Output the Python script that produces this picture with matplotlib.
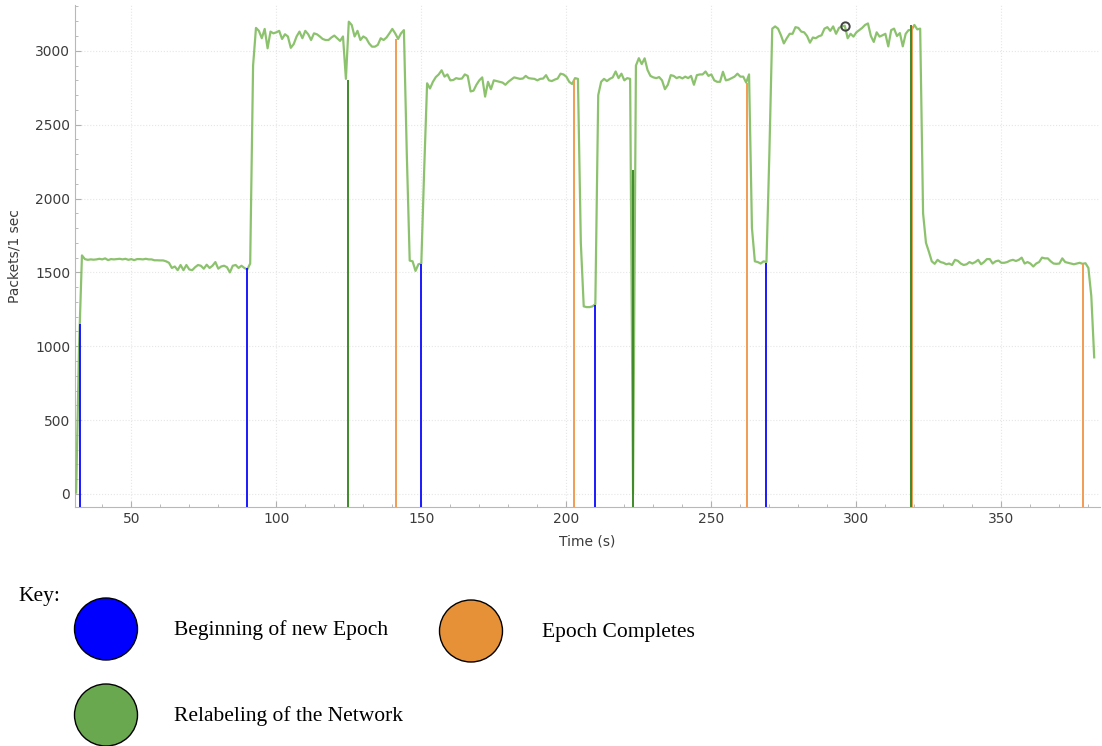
import numpy as np
import matplotlib
matplotlib.use("Agg")
import matplotlib.pyplot as plt
from matplotlib.patches import Ellipse
from matplotlib.ticker import MultipleLocator

# ---------------- data ----------------
time_s = np.arange(31, 383)
packets = [
    10, 1000, 1615, 1590, 1585, 1588, 1586, 1588, 1592, 1588,      # 31-40
    1595, 1583, 1590, 1588, 1590, 1592, 1588, 1592, 1585, 1590,    # 41-50
    1583, 1590, 1590, 1588, 1592, 1588, 1588, 1582, 1582, 1581,    # 51-60
    1581, 1575, 1565, 1530, 1540, 1515, 1550, 1515, 1550, 1520,    # 61-70
    1515, 1535, 1550, 1545, 1525, 1552, 1530, 1545, 1570, 1525,    # 71-80
    1540, 1545, 1535, 1500, 1545, 1550, 1530, 1545, 1530, 1520,    # 81-90
    1560, 2900, 3155, 3135, 3085, 3148, 3017, 3130, 3118, 3125,    # 91-100
    3135, 3080, 3112, 3097, 3020, 3045, 3097, 3130, 3085, 3135,    # 101-110
    3112, 3073, 3118, 3112, 3097, 3080, 3073, 3073, 3090, 3103,    # 111-120
    3085, 3067, 3097, 2810, 3197, 3175, 3097, 3135, 3073, 3097,    # 121-130
    3085, 3050, 3028, 3028, 3040, 3085, 3073, 3090, 3118, 3148,    # 131-140
    3118, 3080, 3118, 3140, 2300, 1580, 1575, 1510, 1555, 1560,    # 141-150
    2200, 2780, 2745, 2790, 2822, 2840, 2868, 2825, 2840, 2800,    # 151-160
    2802, 2815, 2810, 2812, 2840, 2830, 2725, 2730, 2770, 2800,    # 161-170
    2820, 2690, 2790, 2740, 2800, 2795, 2790, 2785, 2770, 2790,    # 171-180
    2805, 2820, 2815, 2810, 2812, 2830, 2815, 2812, 2810, 2800,    # 181-190
    2810, 2812, 2835, 2800, 2795, 2805, 2812, 2845, 2840, 2825,    # 191-200
    2790, 2775, 2815, 2810, 1700, 1270, 1265, 1265, 1270, 1285,    # 201-210
    2700, 2790, 2810, 2795, 2810, 2820, 2860, 2815, 2845, 2800,    # 211-220
    2815, 2810, 0, 2900, 2950, 2910, 2949, 2870, 2830, 2820,       # 221-230
    2815, 2822, 2800, 2740, 2770, 2835, 2830, 2815, 2823, 2813,    # 231-240
    2825, 2815, 2830, 2770, 2835, 2840, 2840, 2860, 2830, 2840,    # 241-250
    2800, 2790, 2790, 2858, 2800, 2805, 2815, 2825, 2845, 2825,    # 251-260
    2825, 2785, 2840, 1800, 1575, 1570, 1560, 1575, 1570, 2300,    # 261-270
    3150, 3165, 3150, 3105, 3050, 3085, 3115, 3115, 3160, 3155,    # 271-280
    3130, 3125, 3100, 3055, 3090, 3085, 3098, 3105, 3150, 3160,    # 281-290
    3135, 3165, 3115, 3155, 3165, 3170, 3085, 3115, 3096, 3125,    # 291-300
    3140, 3155, 3175, 3185, 3100, 3060, 3125, 3096, 3105, 3115,    # 301-310
    3030, 3140, 3150, 3100, 3120, 3030, 3115, 3140, 3140, 3175,    # 311-320
    3145, 3150, 1900, 1700, 1640, 1575, 1558, 1585, 1570, 1565,    # 321-330
    1555, 1560, 1550, 1585, 1578, 1560, 1550, 1555, 1570, 1560,    # 331-340
    1570, 1585, 1555, 1570, 1590, 1590, 1560, 1575, 1580, 1565,    # 341-350
    1565, 1570, 1580, 1585, 1577, 1585, 1600, 1560, 1570, 1560,    # 351-360
    1540, 1560, 1570, 1600, 1595, 1595, 1575, 1560, 1558, 1560,    # 361-370
    1595, 1570, 1565, 1560, 1555, 1560, 1565, 1558, 1562, 1530,    # 371-380
    1340, 925,                                                     # 381-382
]

epoch_begin_t = [32.4, 90.0, 149.8, 210.0, 268.9]
epoch_begin_top = [1150, 1530, 1560, 1280, 1565]
epoch_done_t = [141.2, 202.8, 262.3, 319.1, 378.3]
epoch_done_top = [3080, 2800, 2780, 3170, 1555]
relabel_t = [124.7, 223.1, 318.8]
relabel_top = [2800, 2190, 3175]

marker_t = 296

xticks = [50, 100, 150, 200, 250, 300, 350]
yticks = [0, 500, 1000, 1500, 2000, 2500, 3000]

key_labels = ["Beginning of new Epoch", "Epoch Completes", "Relabeling of the Network"]
key_colors = ["#0000ff", "#e69138", "#6aa84f"]

# ---------------- figure ----------------
W, H = 1102, 746
fig = plt.figure(figsize=(W / 100, H / 100), dpi=100)
ax = fig.add_axes([75 / W, 1 - 507 / H, (1100 - 75) / W, (507 - 5) / H])

xmin, xmax = 30.6, 384.0
ymin, ymax = -88, 3310
ax.set_xlim(xmin, xmax)
ax.set_ylim(ymin, ymax)

ax.plot(time_s, packets, color="#80bc5e", lw=1.6, alpha=0.9, zorder=3)

ax.vlines(epoch_begin_t, ymin, epoch_begin_top, color="#1a1aff", lw=1.4, zorder=4)
ax.vlines(epoch_done_t, ymin, epoch_done_top, color="#f29c55", lw=1.4, zorder=4)
ax.vlines(relabel_t, ymin, relabel_top, color="#3f8a2a", lw=1.4, zorder=4)

mi = list(time_s).index(marker_t)
ax.plot([marker_t], [packets[mi]], marker="o", ms=6, mfc="none", mec="#444444", mew=1.4, zorder=5)

ax.set_xticks(xticks)
ax.set_yticks(yticks)
ax.xaxis.set_minor_locator(MultipleLocator(10))
ax.yaxis.set_minor_locator(MultipleLocator(100))
ax.tick_params(axis="both", which="both", direction="in", colors="#b0b0b0",
               labelcolor="#3c3c3c", labelsize=10)
ax.tick_params(which="major", length=4)
ax.tick_params(which="minor", length=2.5)
ax.grid(True, which="major", color="#e6e6e6", lw=0.8, ls=":")
for s in ["top", "right"]:
    ax.spines[s].set_visible(False)
for s in ["left", "bottom"]:
    ax.spines[s].set_color("#b8b8b8")

ax.set_xlabel("Time (s)", fontsize=10, color="#3c3c3c", labelpad=6)
ax.set_ylabel("Packets/1 sec", fontsize=10, color="#3c3c3c", labelpad=10)

# ---------------- key ----------------
kx = fig.add_axes([0, 0, 1, 1], zorder=-1)
kx.set_xlim(0, W)
kx.set_ylim(H, 0)
kx.axis("off")
kx.patch.set_alpha(0)

serif = "Liberation Serif"
kx.text(18, 597, "Key:", fontsize=15.5, family=serif, va="center", ha="left")
key_pos = [(106, 629, 174, 630), (471, 631, 542, 632), (106, 715, 174, 716)]
for (cx, cy, tx, ty), lab, col in zip(key_pos, key_labels, key_colors):
    kx.add_patch(Ellipse((cx, cy), 63, 62, facecolor=col, edgecolor="black", lw=1.0))
    kx.text(tx, ty, lab, fontsize=15.5, family=serif, va="center", ha="left")

fig.savefig("out.png", dpi=100)
